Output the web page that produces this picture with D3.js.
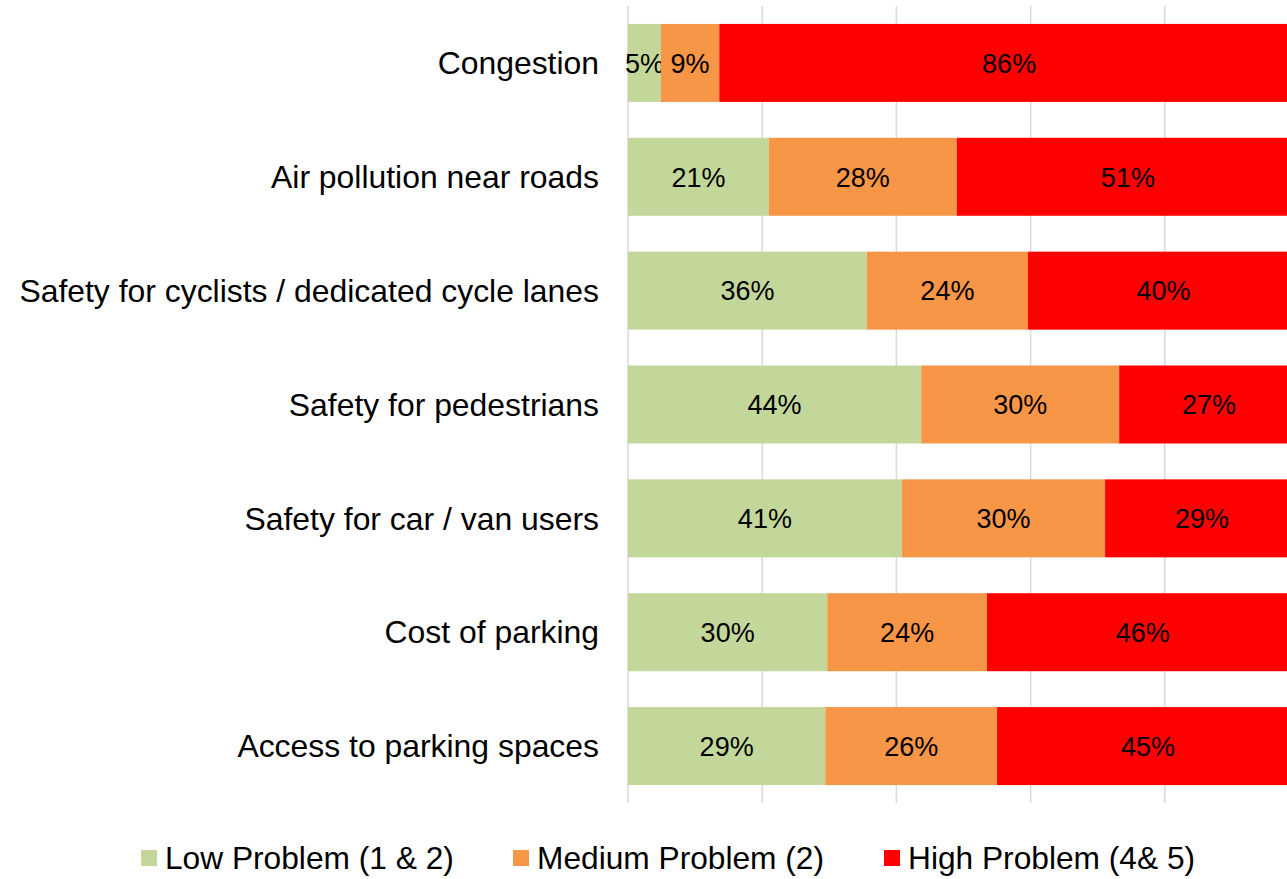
<!DOCTYPE html>
<html>
<head>
<meta charset="utf-8">
<script src="https://cdn.jsdelivr.net/npm/d3@7"></script>
<style>
  body { margin: 0; background: #fff; }
  svg { display: block; font-family: "Liberation Sans", Arial, sans-serif; }
</style>
</head>
<body>
<div id="chart"></div>
<script>
// chart data (percent of respondents)
const categories = [
  "Congestion",
  "Air pollution near roads",
  "Safety for cyclists / dedicated cycle lanes",
  "Safety for pedestrians",
  "Safety for car / van users",
  "Cost of parking",
  "Access to parking spaces"
];
const lowProblem    = [4.9, 21.0, 35.6, 43.7, 40.8, 29.7, 29.4];
const mediumProblem = [8.7, 28.0, 24.0, 29.5, 30.3, 23.8, 25.6];
const highProblem   = [86.4, 51.0, 40.4, 26.8, 28.9, 46.4, 45.0];
const seriesNames = ["Low Problem (1 & 2)", "Medium Problem (2)", "High Problem (4& 5)"];
const seriesColors = ["#c4d79b", "#f79646", "#ff0000"];
const gridTicks = [0, 20, 40, 60, 80, 100];

const width = 1287, height = 879;
const margin = {top: 6, left: 628, bottom: 76};

const svg = d3.select("#chart")
  .append("svg")
  .attr("width", width)
  .attr("height", height);

const table = categories.map((c, i) => ({
  category: c, low: lowProblem[i], medium: mediumProblem[i], high: highProblem[i]
}));
const keys = ["low", "medium", "high"];
const stacked = d3.stack().keys(keys)(table);

const x = d3.scaleLinear().domain([0, 100]).range([margin.left, 1299]);
const y = d3.scaleBand()
  .domain(categories)
  .range([margin.top, height - margin.bottom])
  .paddingInner(0.315)
  .paddingOuter(0.1575);

// gridlines
svg.append("g")
  .selectAll("line")
  .data(gridTicks)
  .enter()
  .append("line")
  .attr("x1", d => x(d))
  .attr("x2", d => x(d))
  .attr("y1", margin.top)
  .attr("y2", height - margin.bottom)
  .attr("stroke", "#d9d9d9")
  .attr("stroke-width", 1.5);

// bars
const layers = svg.append("g")
  .selectAll("g")
  .data(stacked)
  .enter()
  .append("g")
  .attr("fill", (d, i) => seriesColors[i]);

layers.selectAll("rect")
  .data(d => d)
  .enter()
  .append("rect")
  .attr("x", d => x(d[0]))
  .attr("y", d => y(d.data.category))
  .attr("width", d => x(d[1]) - x(d[0]))
  .attr("height", y.bandwidth());

// data labels
const pct = d3.format(".0f");
layers.selectAll("text")
  .data(d => d)
  .enter()
  .append("text")
  .attr("x", d => (x(d[0]) + x(d[1])) / 2)
  .attr("y", d => y(d.data.category) + y.bandwidth() / 2)
  .attr("dy", "0.36em")
  .attr("text-anchor", "middle")
  .attr("fill", "#000")
  .style("font-size", "27px")
  .text(d => pct(d[1] - d[0]) + "%");

// category axis (labels only)
const yAxis = d3.axisLeft(y).tickSize(0).tickPadding(29);
svg.append("g")
  .attr("transform", `translate(${margin.left},1)`)
  .call(yAxis)
  .call(g => g.select(".domain").remove())
  .selectAll("text")
  .attr("fill", "#000")
  .style("font-size", "31.9px")
  .style("font-family", "'Liberation Sans', Arial, sans-serif");

// legend
const legendX = [141, 513, 884];
const legend = svg.append("g")
  .selectAll("g")
  .data(seriesNames)
  .enter()
  .append("g")
  .attr("transform", (d, i) => `translate(${legendX[i]},858)`);

legend.append("rect")
  .attr("x", 0)
  .attr("y", -8)
  .attr("width", 16)
  .attr("height", 16)
  .attr("fill", (d, i) => seriesColors[i]);

legend.append("text")
  .attr("x", 24)
  .attr("dy", "0.36em")
  .style("font-size", "31.7px")
  .text(d => d);
</script>
</body>
</html>
